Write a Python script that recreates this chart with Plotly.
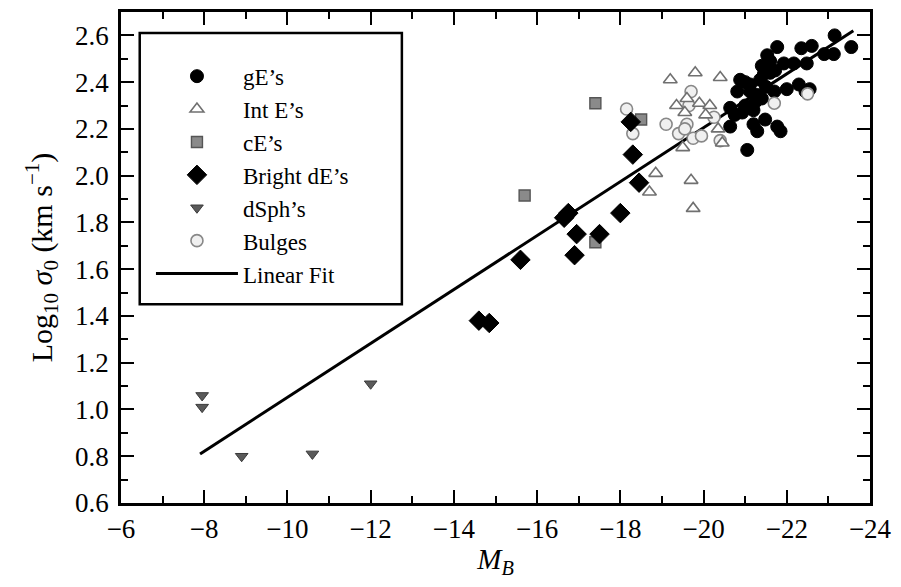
import plotly.graph_objects as go

# ---- data ----
gE_x = [-23.15, -23.55, -21.77, -22.35, -22.6, -22.9, -23.13, -21.53, -21.6, -21.4,
        -21.93, -22.17, -22.48, -21.45, -21.72, -21.6, -20.88, -21.12, -21.36, -21.0,
        -20.81, -21.12, -21.29, -21.5, -20.64, -21.0, -21.24, -21.2, -21.7, -22.0,
        -22.29, -20.64, -21.2, -21.48, -21.77, -20.93, -21.29, -21.05, -21.85, -22.45,
        -22.55, -21.4, -20.75]
gE_y = [2.60, 2.55, 2.55, 2.545, 2.555, 2.52, 2.52, 2.515, 2.49, 2.47,
        2.48, 2.48, 2.48, 2.435, 2.45, 2.44, 2.41, 2.39, 2.41, 2.40,
        2.36, 2.36, 2.345, 2.38, 2.29, 2.30, 2.315, 2.28, 2.36, 2.37,
        2.39, 2.21, 2.22, 2.24, 2.21, 2.27, 2.19, 2.11, 2.19, 2.36,
        2.37, 2.33, 2.26]

intE_x = [-19.2, -19.8, -20.4, -19.35, -19.6, -19.9, -20.15, -19.5, -20.35, -20.45,
          -18.85, -18.7, -19.7, -19.75, -19.55, -20.05]
intE_y = [2.41, 2.44, 2.42, 2.30, 2.33, 2.31, 2.30, 2.12, 2.20, 2.14,
          2.01, 1.93, 1.98, 1.86, 2.27, 2.26]

cE_x = [-15.7, -17.4, -18.5, -17.4]
cE_y = [1.915, 2.31, 2.24, 1.715]

bdE_x = [-14.6, -14.85, -15.6, -16.65, -16.75, -16.9, -16.95, -17.5, -18.0, -18.45, -18.3, -18.25]
bdE_y = [1.38, 1.37, 1.64, 1.82, 1.84, 1.66, 1.75, 1.75, 1.84, 1.97, 2.09, 2.23]

dSph_x = [-7.95, -7.95, -8.9, -10.6, -12.0]
dSph_y = [1.06, 1.01, 0.80, 0.81, 1.11]

bulge_x = [-18.15, -18.3, -19.1, -19.4, -19.6, -19.7, -19.65, -19.75, -19.95, -20.25,
           -20.4, -21.7, -22.5, -19.55]
bulge_y = [2.285, 2.18, 2.22, 2.18, 2.22, 2.36, 2.30, 2.16, 2.17, 2.25,
           2.15, 2.31, 2.35, 2.20]

fit_x = [-7.9, -23.6]
fit_y = [0.81, 2.62]

x_ticks = [-6, -8, -10, -12, -14, -16, -18, -20, -22, -24]
y_ticks = [0.6, 0.8, 1.0, 1.2, 1.4, 1.6, 1.8, 2.0, 2.2, 2.4, 2.6]

FONT = "Liberation Serif, Times New Roman, serif"

fig = go.Figure()

fig.add_trace(go.Scatter(x=fit_x, y=fit_y, mode="lines", name="Linear Fit",
                         line=dict(color="black", width=3), legendrank=7,
                         legendgroup="g7"))
fig.add_trace(go.Scatter(x=gE_x, y=gE_y, mode="markers", name="gE’s",
                         marker=dict(symbol="circle", size=13, color="black",
                                     line=dict(color="black", width=1)),
                         legendrank=1, legendgroup="g1"))
fig.add_trace(go.Scatter(x=bulge_x, y=bulge_y, mode="markers", name="Bulges",
                         marker=dict(symbol="circle", size=12, color="#f0f0f0",
                                     line=dict(color="#888888", width=1.6)),
                         legendrank=6, legendgroup="g6"))
fig.add_trace(go.Scatter(x=intE_x, y=intE_y, mode="markers", name="Int E’s",
                         marker=dict(symbol="triangle-up", size=12, color="white",
                                     line=dict(color="#707070", width=1.6)),
                         legendrank=2, legendgroup="g2"))
fig.add_trace(go.Scatter(x=cE_x, y=cE_y, mode="markers", name="cE’s",
                         marker=dict(symbol="square", size=11, color="#8a8a8a",
                                     line=dict(color="#555555", width=1.4)),
                         legendrank=3, legendgroup="g3"))
fig.add_trace(go.Scatter(x=bdE_x, y=bdE_y, mode="markers", name="Bright dE’s",
                         marker=dict(symbol="diamond", size=15, color="black",
                                     line=dict(color="black", width=1)),
                         legendrank=4, legendgroup="g4"))
fig.add_trace(go.Scatter(x=dSph_x, y=dSph_y, mode="markers", name="dSph’s",
                         marker=dict(symbol="triangle-down", size=11, color="#5a5a5a",
                                     line=dict(color="#3a3a3a", width=1)),
                         legendrank=5, legendgroup="g5"))

axis_common = dict(showline=True, linecolor="black", linewidth=2.5, mirror="allticks",
                   ticks="inside", tickcolor="black", tickwidth=2, ticklen=13,
                   showgrid=False, zeroline=False)

fig.update_xaxes(range=[-6, -24], tickvals=x_ticks, ticktext=[f"−{abs(v)}" for v in x_ticks],
                 tickfont=dict(family=FONT, size=27, color="black"),
                 minor=dict(ticks="inside", ticklen=7, tickwidth=2, tickcolor="black", dtick=1,
                            tick0=-6, showgrid=False),
                 title=dict(text="<i>M<sub>B</sub></i>", font=dict(family=FONT, size=29, color="black"),
                            standoff=6),
                 **axis_common)
fig.update_yaxes(range=[0.6, 2.7], tickvals=y_ticks, ticktext=[f"{v:.1f}" for v in y_ticks],
                 tickfont=dict(family=FONT, size=27, color="black"), ticklabelstandoff=4,
                 minor=dict(ticks="inside", ticklen=7, tickwidth=2, tickcolor="black", dtick=0.1,
                            tick0=0.6, showgrid=False),
                 title=dict(text="Log<sub>10</sub> <i>σ</i><sub>0</sub> (km s<sup>−1</sup>)",
                            font=dict(family=FONT, size=30, color="black"), standoff=14),
                 **axis_common)

fig.add_shape(type="rect", xref="paper", yref="paper", x0=0.025, x1=0.375, y0=0.405, y1=0.957,
              line=dict(color="black", width=2.5), fillcolor="rgba(0,0,0,0)", layer="above")

fig.update_layout(
    width=901, height=587,
    margin=dict(l=121, r=28, t=9, b=84),
    paper_bgcolor="white", plot_bgcolor="white",
    font=dict(family=FONT, color="black"),
    legend=dict(x=0.04, y=0.913, xanchor="left", yanchor="top",
                bgcolor="rgba(0,0,0,0)", borderwidth=0,
                font=dict(family=FONT, size=23, color="black"),
                traceorder="grouped", tracegroupgap=0, itemwidth=82),
)

fig.write_html("out.html")
